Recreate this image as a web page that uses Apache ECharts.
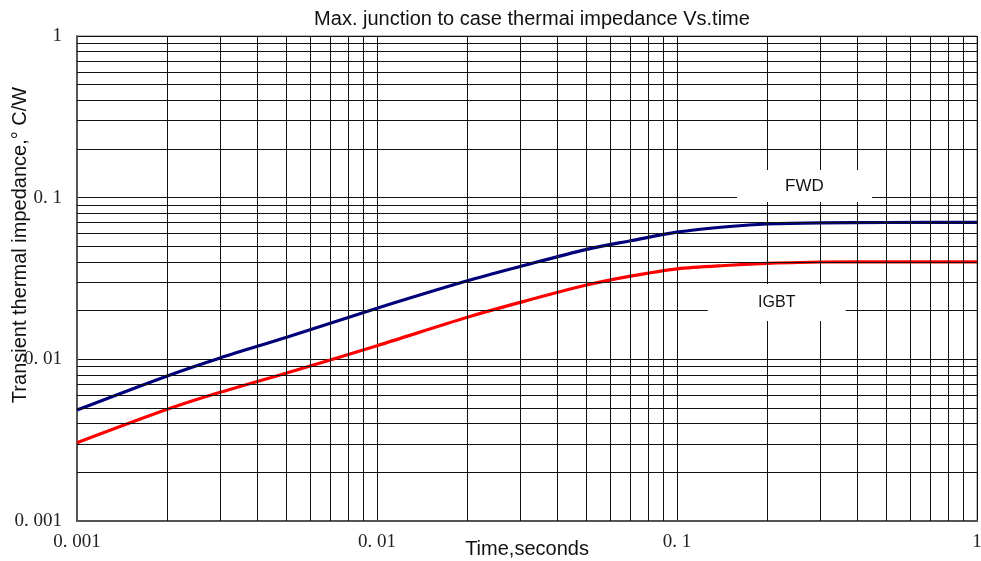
<!DOCTYPE html>
<html>
<head>
<meta charset="utf-8">
<script src="https://cdn.jsdelivr.net/npm/echarts@6/dist/echarts.min.js"></script>
<style>html,body{margin:0;padding:0;background:#fff}#c{width:981px;height:561px}</style>
</head>
<body>
<div id="c"></div>
<script>
// Data
var timeValues = [0.001, 0.002, 0.003, 0.005, 0.01, 0.02, 0.03, 0.05, 0.07, 0.1, 0.15, 0.2, 0.3, 0.5, 1];
var fwdValues  = [0.00486, 0.0079, 0.0102, 0.0137, 0.0207, 0.0306, 0.0375, 0.0479, 0.0541, 0.0612, 0.0663, 0.0687, 0.0699, 0.0702, 0.0703];
var igbtValues = [0.00305, 0.00491, 0.00625, 0.00823, 0.01214, 0.0182, 0.0225, 0.0288, 0.0327, 0.0363, 0.0382, 0.0392, 0.0400, 0.0401, 0.0401];
var decades = [0.001, 0.01, 0.1];
var minorMultipliers = [2, 3, 4, 5, 6, 7, 8, 9];
var tickLabels = {'0.001': '0. 001', '0.01': '0. 01', '0.1': '0. 1', '1': '1'};
var seriesNames = ['FWD', 'IGBT'];
var annotationPos = {FWD: [0.266, 0.118], IGBT: [0.215, 0.0225]};

var minorVals = [];
decades.forEach(function (d) {
  minorMultipliers.forEach(function (m) { minorVals.push(+(m * d).toPrecision(3)); });
});

function fmt(v) {
  var k = String(+v.toPrecision(3));
  return tickLabels[k] !== undefined ? tickLabels[k] : '';
}

var gridLineStyle = {color: '#111', width: 1, type: 'solid'};
var markLineData = [];
minorVals.forEach(function (v) { markLineData.push({xAxis: v}); markLineData.push({yAxis: v}); });

var chart = echarts.init(document.getElementById('c'), null, {renderer: 'canvas'});
chart.setOption({
  animation: false,
  backgroundColor: '#fff',
  title: {
    text: 'Max. junction to case thermai impedance Vs.time',
    left: 527, top: 4, textAlign: 'center',
    textStyle: {fontFamily: 'Liberation Sans', fontSize: 20, fontWeight: 'normal', color: '#111'}
  },
  grid: {left: 77, right: 4, top: 36, bottom: 40, show: true, borderColor: '#777', borderWidth: 1,
         containLabel: false, outerBoundsMode: 'none'},
  xAxis: {
    type: 'log', logBase: 10, min: 0.001, max: 1,
    name: 'Time,seconds', nameLocation: 'middle', nameGap: 18, nameMoveOverlap: false,
    nameTextStyle: {fontFamily: 'Liberation Sans', fontSize: 20, color: '#111'},
    axisLine: {show: true, lineStyle: {color: '#555', width: 2}},
    axisTick: {show: false},
    axisLabel: {formatter: fmt, margin: 12, fontFamily: 'Liberation Serif', fontSize: 19, color: '#222', showMinLabel: true, showMaxLabel: true},
    splitLine: {show: true, lineStyle: gridLineStyle}
  },
  yAxis: {
    type: 'log', logBase: 10, min: 0.001, max: 1,
    axisLine: {show: true, lineStyle: {color: '#555', width: 2}},
    axisTick: {show: false},
    axisLabel: {formatter: fmt, margin: 15, fontFamily: 'Liberation Serif', fontSize: 19, color: '#222', showMinLabel: true, showMaxLabel: true},
    splitLine: {show: true, lineStyle: gridLineStyle}
  },
  graphic: [{
    type: 'text', x: 20, y: 245, rotation: Math.PI / 2,
    style: {text: 'Transient thermal impedance,\u00B0 C/W', align: 'center', verticalAlign: 'middle',
            font: '20px "Liberation Sans"', fill: '#111'}
  }],
  series: [
    {
      type: 'line', data: [], silent: true, z: 1,
      markLine: {silent: true, precision: 6, symbol: ['none', 'none'], label: {show: false}, lineStyle: gridLineStyle, data: markLineData, animation: false}
    },
    {
      name: seriesNames[0], type: 'line', smooth: 0.3, symbol: 'none', z: 3,
      lineStyle: {color: '#00007a', width: 3.2}, itemStyle: {color: '#00007a'},
      data: timeValues.map(function (t, i) { return [t, fwdValues[i]]; })
    },
    {
      name: seriesNames[1], type: 'line', smooth: 0.3, symbol: 'none', z: 3,
      lineStyle: {color: '#ff0000', width: 3.2}, itemStyle: {color: '#ff0000'},
      data: timeValues.map(function (t, i) { return [t, igbtValues[i]]; }),
      markPoint: {
        silent: true, animation: false,
        data: [
          {coord: annotationPos.FWD, symbol: 'rect', symbolSize: [135, 32], itemStyle: {color: '#fff'},
           label: {show: true, position: 'inside', formatter: 'FWD', color: '#111', fontFamily: 'Liberation Sans', fontSize: 17}},
          {coord: annotationPos.IGBT, symbol: 'rect', symbolSize: [138, 37], itemStyle: {color: '#fff'},
           label: {show: true, position: 'inside', formatter: 'IGBT', color: '#111', fontFamily: 'Liberation Sans', fontSize: 16, padding: [11, 0, 0, 0]}}
        ]
      }
    }
  ]
});
</script>
</body>
</html>
